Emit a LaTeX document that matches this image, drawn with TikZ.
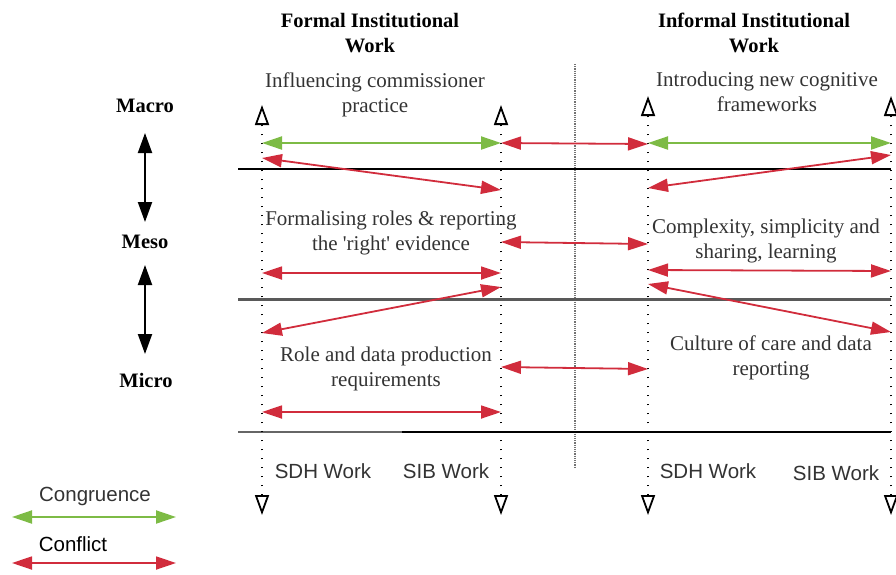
\documentclass[tikz,border=0pt]{standalone}
\usepackage{fontspec}
\setmainfont{Liberation Serif}
\setsansfont{Liberation Sans}
\usetikzlibrary{arrows.meta}
\definecolor{cgreen}{HTML}{7DBB45}
\definecolor{cred}{HTML}{D12C3C}
\definecolor{txt}{HTML}{333333}
\begin{document}
\begin{tikzpicture}[x=1pt,y=-1pt,
  serif/.style={font=\fontsize{21}{25}\selectfont, text=txt, align=center, inner sep=0pt},
  title/.style={font=\fontsize{20.5}{25}\selectfont\bfseries, text=black, align=center, inner sep=0pt},
  sanslab/.style={font=\sffamily\fontsize{20.5}{25}\selectfont, text=txt, inner sep=0pt},
  congr/.style={draw=cgreen, line width=2pt, {Triangle[length=20pt,width=13pt]}-{Triangle[length=20pt,width=13pt]}},
  confl/.style={draw=cred, line width=1.8pt, {Triangle[length=20pt,width=13pt]}-{Triangle[length=20pt,width=13pt]}},
  level/.style={draw=black, line width=2pt, {Triangle[length=20pt,width=14pt]}-{Triangle[length=20pt,width=14pt]}},
  guide/.style={draw=black, line width=1.6pt, dash pattern=on 1.6pt off 7.4pt,
     {Triangle[open,length=20pt,width=14pt,line width=1.8pt]}-{Triangle[open,length=20pt,width=14pt,line width=1.8pt]}},
  hline/.style={line width=2pt},
]
\useasboundingbox (0,0) rectangle (896,574);

% centre divider
\coordinate (ctop) at (575,64);
\coordinate (cbot) at (575,468);
\draw[black!55, line width=2pt, dash pattern=on 1.2pt off 1pt] (ctop) -- (cbot);

% horizontal level lines
\coordinate (h1a) at (238,169); \coordinate (h1b) at (891,169);
\coordinate (h2a) at (238,299); \coordinate (h2b) at (891,299);
\coordinate (h3a) at (238,432); \coordinate (h3m) at (402,432); \coordinate (h3b) at (891,432);
\draw[hline, black] (h1a) -- (h1b);
\draw[hline, line width=3pt, black!65] (h2a) -- (h2b);
\draw[hline, black!60] (h3a) -- (h3m);
\draw[hline, black] (h3m) -- (h3b);

% vertical guides
\coordinate (g1t) at (262,105); \coordinate (g1b) at (262,515);
\coordinate (g2t) at (501,105); \coordinate (g2b) at (501,515);
\coordinate (g3t) at (648,96);  \coordinate (g3b) at (648,515);
\coordinate (g4t) at (891,96);  \coordinate (g4b) at (891,515);
\draw[guide] (g1b) -- (g1t);
\draw[guide] (g2b) -- (g2t);
\draw[guide] (g3b) -- (g3t);
\draw[guide] (g4b) -- (g4t);

% titles
\node[title] (tformal) at (370,33) {Formal Institutional\\Work};
\node[title] (tinformal) at (754,33) {Informal Institutional\\Work};

% level labels
\node[title] (macro) at (145,106) {Macro};
\node[title] (meso) at (145,242) {Meso};
\node[title] (micro) at (146,380) {Micro};
\coordinate (v1a) at (145,133); \coordinate (v1b) at (145,222);
\coordinate (v2a) at (145,265); \coordinate (v2b) at (145,354);
\draw[level] (v1a) -- (v1b);
\draw[level] (v2a) -- (v2b);

% cell texts
\node[serif] (c1) at (375,95) {Influencing commissioner\\practice};
\node[serif] (c2) at (767,92) {Introducing new cognitive\\frameworks};
\node[serif] (c3) at (391,233) {Formalising roles \& reporting\\the \textquotesingle right\textquotesingle{} evidence};
\node[serif] (c4) at (766,241) {Complexity, simplicity and\\sharing, learning};
\node[serif] (c5) at (386,369) {Role and data production\\requirements};
\node[serif] (c6) at (771,358) {Culture of care and data\\reporting};

% macro arrows
\coordinate (m1) at (262,143); \coordinate (m2) at (501,143);
\coordinate (m3) at (648,144); \coordinate (m4) at (891,143);
\coordinate (m2b) at (501,143); \coordinate (m3a) at (648,143);
\draw[congr] (m1) -- (m2);
\draw[confl] (m2b) -- (m3);
\draw[congr] (m3a) -- (m4);
\coordinate (x1a) at (262,158); \coordinate (x1b) at (501,190);
\draw[confl] (x1a) -- (x1b);
\coordinate (x2a) at (648,188); \coordinate (x2b) at (891,155);
\draw[confl] (x2a) -- (x2b);

% meso arrows
\coordinate (s1) at (262,273); \coordinate (s2) at (501,273);
\draw[confl] (s1) -- (s2);
\coordinate (s3) at (501,242); \coordinate (s4) at (648,244);
\draw[confl] (s3) -- (s4);
\coordinate (s5) at (648,270); \coordinate (s6) at (891,271);
\draw[confl] (s5) -- (s6);
\coordinate (x3a) at (262,333); \coordinate (x3b) at (501,287);
\draw[confl] (x3a) -- (x3b);
\coordinate (x4a) at (648,284); \coordinate (x4b) at (891,332);
\draw[confl] (x4a) -- (x4b);

% micro arrows
\coordinate (u1) at (501,367); \coordinate (u2) at (648,369);
\draw[confl] (u1) -- (u2);
\coordinate (u3) at (262,412); \coordinate (u4) at (501,412);
\draw[confl] (u3) -- (u4);

% bottom labels
\node[sanslab] (w1) at (323,471) {SDH Work};
\node[sanslab] (w2) at (446,471) {SIB Work};
\node[sanslab] (w3) at (708,471) {SDH Work};
\node[sanslab] (w4) at (836,473) {SIB Work};

% legend
\node[sanslab] (lg1) at (95,496) {Congruence};
\coordinate (la) at (12,517); \coordinate (lb) at (176,517);
\draw[congr] (la) -- (lb);
\node[sanslab, text=black] (lg2) at (73,544) {Conflict};
\coordinate (lc) at (12,563); \coordinate (ld) at (176,563);
\draw[confl] (lc) -- (ld);
\end{tikzpicture}
\end{document}
